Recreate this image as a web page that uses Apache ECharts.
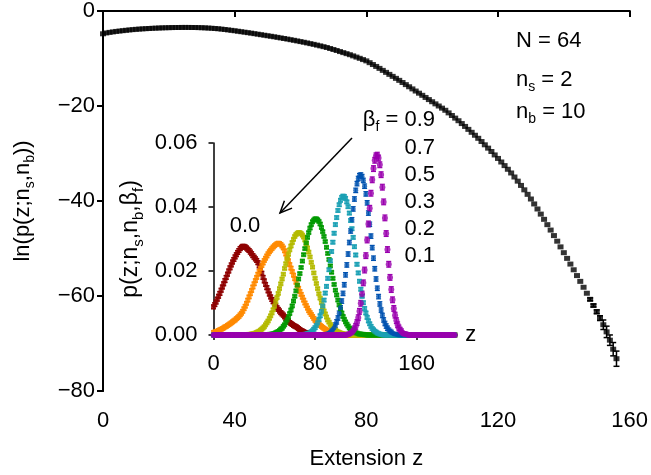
<!DOCTYPE html>
<html><head><meta charset="utf-8">
<script src="https://cdn.jsdelivr.net/npm/echarts@6/dist/echarts.min.js"></script>
<style>html,body{margin:0;padding:0;background:#fff}#c{width:651px;height:475px}</style>
</head><body><div id="c"></div>
<script>
const FONT = 'Liberation Sans, Arial, Helvetica, sans-serif';

// ---------- main chart: ln p(z; ns, nb), z = 0..156 ----------
const mainLnP = [
-4.80,-4.62,-4.50,-4.40,-4.30,-4.22,-4.14,-4.06,-3.99,-3.92,
-3.86,-3.81,-3.76,-3.72,-3.68,-3.64,-3.61,-3.58,-3.55,-3.53,
-3.51,-3.49,-3.48,-3.47,-3.46,-3.46,-3.46,-3.47,-3.48,-3.50,
-3.52,-3.55,-3.59,-3.63,-3.68,-3.74,-3.81,-3.89,-3.98,-4.07,
-4.16,-4.26,-4.36,-4.46,-4.56,-4.66,-4.77,-4.88,-4.99,-5.10,
-5.21,-5.32,-5.43,-5.55,-5.67,-5.79,-5.91,-6.04,-6.17,-6.30,
-6.44,-6.58,-6.72,-6.87,-7.02,-7.18,-7.34,-7.51,-7.68,-7.89,
-8.10,-8.32,-8.54,-8.76,-8.98,-9.20,-9.45,-9.70,-9.96,-10.23,
-10.50,-10.88,-11.27,-11.67,-12.08,-12.50,-12.92,-13.34,-13.76,-14.18,
-14.60,-15.05,-15.50,-15.95,-16.40,-16.85,-17.30,-17.75,-18.20,-18.65,
-19.10,-19.55,-20.00,-20.45,-20.90,-21.45,-22.00,-22.55,-23.10,-23.70,
-24.30,-24.92,-25.54,-26.16,-26.80,-27.48,-28.17,-28.87,-29.58,-30.30,
-31.04,-31.79,-32.55,-33.32,-34.10,-34.95,-35.82,-36.72,-37.65,-38.60,
-39.58,-40.62,-41.68,-42.76,-43.86,-44.98,-46.12,-47.28,-48.46,-49.66,
-50.88,-52.08,-53.28,-54.48,-55.70,-56.92,-58.16,-59.42,-60.70,-62.00,
-63.32,-64.66,-66.05,-67.55,-69.30,-71.20,-73.20
];
const mainZ = mainLnP.map((_, i) => i);
const mainErrZ = [148,149,150,151,152,153,154,155,156];
const mainErr  = [0.3,0.3,0.4,0.5,1.0,1.2,1.1,1.4,1.6];

// ---------- inset: p(z; ns, nb, beta_f), z = 0..190 ----------
const betaLabels = ['0.0','0.1','0.2','0.3','0.5','0.7','0.9'];
const pBeta00 = [
.0088,.0095,.0103,.0112,.0121,.0130,.0140,.0150,.0160,.0170,
.0180,.0190,.0200,.0210,.0219,.0228,.0236,.0244,.0251,.0258,
.0264,.0270,.0274,.0277,.0277,.0275,.0272,.0268,.0264,.0259,
.0254,.0248,.0243,.0238,.0233,.0226,.0216,.0205,.0193,.0180,
.0169,.0158,.0148,.0138,.0128,.0119,.0111,.0104,.0097,.0091,
.0085,.0080,.0075,.0070,.0066,.0062,.0057,.0052,.0047,.0043,
.0039,.0036,.0033,.0030,.0028,.0026,.0023,.0020,.0017,.0014,
.0012,.0010,.0008,.0007,.0006,.0005,.0004,.0003,.0002,.0002,
.0001,.0001,.0001,0,0,0,0,0,0,0,
0,0,0,0,0,0,0,0,0,0, 0,0,0,0,0,0,0,0,0,0, 0,0,0,0,0,0,0,0,0,0,
0,0,0,0,0,0,0,0,0,0, 0,0,0,0,0,0,0,0,0,0, 0,0,0,0,0,0,0,0,0,0,
0,0,0,0,0,0,0,0,0,0, 0,0,0,0,0,0,0,0,0,0, 0,0,0,0,0,0,0,0,0,0,
0,0,0,0,0,0,0,0,0,0, 0
];
const pBeta01 = [
.0008,.0009,.0011,.0012,.0014,.0016,.0018,.0020,.0022,.0025,
.0027,.0030,.0032,.0035,.0038,.0041,.0044,.0047,.0051,.0054,
.0058,.0063,.0068,.0074,.0082,.0090,.0099,.0109,.0119,.0129,
.0139,.0150,.0160,.0170,.0180,.0190,.0199,.0208,.0217,.0225,
.0233,.0240,.0247,.0254,.0260,.0265,.0270,.0275,.0279,.0282,
.0285,.0287,.0286,.0283,.0278,.0272,.0263,.0253,.0243,.0232,
.0220,.0209,.0198,.0187,.0176,.0165,.0155,.0146,.0136,.0127,
.0118,.0109,.0100,.0092,.0084,.0076,.0070,.0064,.0058,.0052,
.0046,.0042,.0038,.0034,.0030,.0027,.0024,.0021,.0018,.0016,
.0014,.0012,.0010,.0008,.0007,.0006,.0005,.0004,.0003,.0003,
.0002,.0002,.0001,.0001,.0001,.0001,0,0,0,0,
0,0,0,0,0,0,0,0,0,0, 0,0,0,0,0,0,0,0,0,0, 0,0,0,0,0,0,0,0,0,0,
0,0,0,0,0,0,0,0,0,0, 0,0,0,0,0,0,0,0,0,0, 0,0,0,0,0,0,0,0,0,0,
0,0,0,0,0,0,0,0,0,0, 0,0,0,0,0,0,0,0,0,0, 0
];
const pBeta02 = [
0,0,0,0,0,0,0,0,0,0, 0,0,0,0,0,0,0,0,0,0,
0,0,0,0,0,.0001,.0001,.0001,.0002,.0002,
.0003,.0004,.0005,.0006,.0008,.0010,.0012,.0015,.0018,.0022,
.0026,.0032,.0038,.0044,.0052,.0060,.0069,.0079,.0090,.0104,
.0117,.0130,.0145,.0160,.0175,.0190,.0208,.0223,.0238,.0252,
.0266,.0278,.0289,.0299,.0308,.0314,.0318,.0320,.0320,.0317,
.0312,.0306,.0297,.0285,.0272,.0259,.0244,.0227,.0212,.0194,
.0177,.0161,.0145,.0129,.0115,.0101,.0087,.0075,.0066,.0056,
.0047,.0040,.0033,.0027,.0023,.0018,.0015,.0012,.0010,.0008,
.0006,.0005,.0004,.0003,.0002,.0002,.0001,.0001,0,0,
0,0,0,0,0,0,0,0,0,0, 0,0,0,0,0,0,0,0,0,0, 0,0,0,0,0,0,0,0,0,0,
0,0,0,0,0,0,0,0,0,0, 0,0,0,0,0,0,0,0,0,0, 0,0,0,0,0,0,0,0,0,0,
0,0,0,0,0,0,0,0,0,0, 0,0,0,0,0,0,0,0,0,0, 0
];
const pBeta03 = [
0,0,0,0,0,0,0,0,0,0, 0,0,0,0,0,0,0,0,0,0,
0,0,0,0,0,0,0,0,0,0, 0,0,0,0,0,0,0,0,0,0,
.0001,.0001,.0001,.0001,.0002,.0002,.0003,.0004,.0005,.0007,
.0009,.0011,.0014,.0018,.0021,.0027,.0032,.0039,.0047,.0056,
.0067,.0078,.0091,.0106,.0121,.0138,.0156,.0175,.0192,.0211,
.0231,.0251,.0270,.0288,.0305,.0320,.0334,.0345,.0354,.0359,
.0363,.0363,.0360,.0355,.0347,.0336,.0323,.0308,.0292,.0274,
.0255,.0236,.0216,.0196,.0177,.0158,.0140,.0125,.0109,.0094,
.0081,.0069,.0058,.0049,.0041,.0034,.0028,.0022,.0018,.0014,
.0011,.0009,.0007,.0006,.0004,.0003,.0003,.0002,.0002,.0001,
.0001,0,0,0,0,0,0,0,0,0,
0,0,0,0,0,0,0,0,0,0, 0,0,0,0,0,0,0,0,0,0, 0,0,0,0,0,0,0,0,0,0,
0,0,0,0,0,0,0,0,0,0, 0,0,0,0,0,0,0,0,0,0, 0,0,0,0,0,0,0,0,0,0, 0
];
const pBeta05 = [
0,0,0,0,0,0,0,0,0,0, 0,0,0,0,0,0,0,0,0,0, 0,0,0,0,0,0,0,0,0,0,
0,0,0,0,0,0,0,0,0,0, 0,0,0,0,0,0,0,0,0,0, 0,0,0,0,0,0,0,0,0,0,
0,0,0,0,0,0,0,0,0,0,
.0001,.0001,.0002,.0003,.0004,.0005,.0007,.0010,.0013,.0018,
.0023,.0030,.0038,.0048,.0060,.0074,.0091,.0109,.0131,.0152,
.0177,.0204,.0232,.0261,.0290,.0318,.0345,.0367,.0389,.0407,
.0421,.0430,.0434,.0433,.0427,.0416,.0401,.0381,.0358,.0332,
.0305,.0276,.0250,.0221,.0194,.0168,.0143,.0121,.0101,.0083,
.0069,.0055,.0044,.0035,.0027,.0020,.0016,.0012,.0009,.0006,
.0005,.0003,.0002,.0001,0,0,0,0,0,0,
0,0,0,0,0,0,0,0,0,0, 0,0,0,0,0,0,0,0,0,0, 0,0,0,0,0,0,0,0,0,0,
0,0,0,0,0,0,0,0,0,0, 0,0,0,0,0,0,0,0,0,0, 0
];
const pBeta07 = [
0,0,0,0,0,0,0,0,0,0, 0,0,0,0,0,0,0,0,0,0, 0,0,0,0,0,0,0,0,0,0,
0,0,0,0,0,0,0,0,0,0, 0,0,0,0,0,0,0,0,0,0, 0,0,0,0,0,0,0,0,0,0,
0,0,0,0,0,0,0,0,0,0, 0,0,0,0,0,0,0,0,0,0,
0,0,0,0,0,0,0,.0001,.0002,.0003,
.0004,.0006,.0009,.0013,.0017,.0023,.0031,.0041,.0053,.0068,
.0085,.0106,.0130,.0157,.0188,.0219,.0253,.0289,.0325,.0360,
.0394,.0425,.0452,.0473,.0489,.0498,.0500,.0495,.0483,.0465,
.0441,.0413,.0381,.0346,.0309,.0273,.0240,.0207,.0175,.0146,
.0120,.0097,.0078,.0061,.0047,.0036,.0028,.0021,.0015,.0011,
.0008,.0006,.0004,.0003,.0002,.0001,0,0,0,0,
0,0,0,0,0,0,0,0,0,0, 0,0,0,0,0,0,0,0,0,0, 0,0,0,0,0,0,0,0,0,0,
0,0,0,0,0,0,0,0,0,0, 0
];
const pBeta09 = [
0,0,0,0,0,0,0,0,0,0, 0,0,0,0,0,0,0,0,0,0, 0,0,0,0,0,0,0,0,0,0,
0,0,0,0,0,0,0,0,0,0, 0,0,0,0,0,0,0,0,0,0, 0,0,0,0,0,0,0,0,0,0,
0,0,0,0,0,0,0,0,0,0, 0,0,0,0,0,0,0,0,0,0, 0,0,0,0,0,0,0,0,0,0,
0,0,0,0,0,0,0,0,0,0,
0,0,0,0,0,.0001,.0002,.0003,.0006,.0008,
.0013,.0019,.0027,.0039,.0054,.0074,.0099,.0128,.0163,.0203,
.0248,.0297,.0347,.0396,.0443,.0485,.0520,.0546,.0560,.0562,
.0553,.0532,.0501,.0462,.0416,.0366,.0317,.0267,.0221,.0180,
.0142,.0110,.0083,.0062,.0045,.0032,.0022,.0015,.0010,.0006,
.0004,.0003,.0002,.0001,0,0,0,0,0,0,
0,0,0,0,0,0,0,0,0,0, 0,0,0,0,0,0,0,0,0,0, 0,0,0,0,0,0,0,0,0,0, 0
];
const insetSeries = [pBeta00, pBeta01, pBeta02, pBeta03, pBeta05, pBeta07, pBeta09];
const insetErr = [0.0006, 0.0005, 0.0004, 0.0004, 0.0005, 0.0007, 0.0009];
const insetZ = pBeta00.map((_, i) => i);

// ---------- styling ----------
const insetColors = ['#8E0000', '#FF8A00', '#B4BA00', '#009A00', '#1AA0B4', '#0052B0', '#9A00AE'];
const insetSymbols = ['rect', 'rect', 'rect', 'rect', 'rect', 'circle', 'circle'];
const insetSizes = [5, 5, 5, 5, 5, 5, 6];

function errRenderer(color, capHalf, lw) {
  return function (params, api) {
    const x = api.value(0), y = api.value(1), e = api.value(2);
    if (!(e > 0)) return null;
    const t = api.coord([x, y + e]), b = api.coord([x, y - e]);
    const st = { stroke: color, lineWidth: lw };
    return { type: 'group', children: [
      { type: 'line', shape: { x1: t[0], y1: t[1], x2: b[0], y2: b[1] }, style: st },
      { type: 'line', shape: { x1: t[0] - capHalf, y1: t[1], x2: t[0] + capHalf, y2: t[1] }, style: st },
      { type: 'line', shape: { x1: b[0] - capHalf, y1: b[1], x2: b[0] + capHalf, y2: b[1] }, style: st }
    ]};
  };
}

const series = [];
series.push({
  type: 'scatter', xAxisIndex: 0, yAxisIndex: 0, symbol: 'rect', symbolSize: [6, 5],
  itemStyle: { color: '#000' }, data: mainZ.map((z, i) => [z, mainLnP[i]]), silent: true
});
series.push({
  type: 'custom', xAxisIndex: 0, yAxisIndex: 0, renderItem: errRenderer('#000', 3, 1.5),
  data: mainErrZ.map((z, i) => [z, mainLnP[z], mainErr[i]]), silent: true
});
insetSeries.forEach((vals, k) => {
  series.push({
    type: 'custom', xAxisIndex: 2, yAxisIndex: 2, renderItem: errRenderer(insetColors[k], 2.5, 1.2),
    data: insetZ.filter((z) => vals[z] > 0.0006).map((z) => [z, vals[z], insetErr[k]]), silent: true
  });
  series.push({
    type: 'scatter', xAxisIndex: 2, yAxisIndex: 2, symbol: insetSymbols[k], symbolSize: insetSizes[k],
    itemStyle: { color: insetColors[k] }, data: insetZ.map((z) => [z, vals[z]]), silent: true
  });
});

const axisBlack = { lineStyle: { color: '#000', width: 2 } };
const lbl = { color: '#000', fontSize: 22, fontFamily: FONT };
const subRich = {
  a: { fontSize: 22, fontFamily: FONT, color: '#000' },
  s: { fontSize: 14, fontFamily: FONT, color: '#000', padding: [14, 0, 0, 0] }
};
const subRichInset = {
  a: { fontSize: 23, fontFamily: FONT, color: '#000' },
  s: { fontSize: 15, fontFamily: FONT, color: '#000', padding: [15, 0, 0, 0] }
};
const minusFmt = (v) => (v < 0 ? '\u2212' + Math.abs(v) : String(v));

const option = {
  animation: false,
  backgroundColor: '#fff',
  textStyle: { fontFamily: FONT },
  grid: [
    { left: 103, right: 20, top: 8, bottom: 83 },
    { left: 213.5, top: 143, width: 243.8, height: 192 }
  ],
  xAxis: [
    { gridIndex: 0, type: 'value', min: 0, max: 160, interval: 40, position: 'bottom',
      axisLine: axisBlack, axisTick: { inside: false, length: 6, lineStyle: { color: '#000', width: 2 } },
      axisLabel: Object.assign({ margin: 19 }, lbl), splitLine: { show: false },
      name: '{a|Extension z}', nameLocation: 'middle', nameGap: 57,
      nameTextStyle: { rich: subRich } },
    { gridIndex: 0, type: 'value', min: 0, max: 160, interval: 40, position: 'top',
      axisLine: axisBlack, axisTick: { inside: true, length: 5, lineStyle: { color: '#000', width: 2 } },
      axisLabel: { show: false }, splitLine: { show: false } },
    { gridIndex: 1, type: 'value', min: 0, max: 192, position: 'bottom',
      axisLine: { onZero: false, lineStyle: { color: '#000', width: 1.5 } },
      axisTick: { inside: false, length: 5, customValues: [0, 80, 160], lineStyle: { color: '#000', width: 1.5 } },
      axisLabel: Object.assign({ margin: 18, customValues: [0, 80, 160] }, lbl), splitLine: { show: false },
      name: 'z', nameLocation: 'end', nameGap: 8, nameTextStyle: { fontSize: 22, color: '#000', fontFamily: FONT, verticalAlign: 'middle', padding: [8, 0, 0, 0] } }
  ],
  yAxis: [
    { gridIndex: 0, type: 'value', min: -80, max: 0, interval: 20, position: 'left',
      axisLine: axisBlack, axisTick: { inside: false, length: 6, lineStyle: { color: '#000', width: 2 } },
      axisLabel: Object.assign({ margin: 8, formatter: minusFmt }, lbl), splitLine: { show: false },
      name: '{a|ln(p(z;n}{s|s}{a|,n}{s|b}{a|))}', nameLocation: 'middle', nameGap: 66, nameRotate: 90,
      nameTextStyle: { rich: subRich } },
    { gridIndex: 0, type: 'value', min: -80, max: 0, interval: 20, position: 'right',
      axisLine: axisBlack, axisTick: { inside: true, length: 6, lineStyle: { color: '#000', width: 2 } },
      axisLabel: { show: false }, splitLine: { show: false } },
    { gridIndex: 1, type: 'value', min: 0, max: 0.06, interval: 0.02, position: 'left',
      axisLine: { onZero: false, lineStyle: { color: '#000', width: 1.5 } },
      axisTick: { inside: false, length: 5, lineStyle: { color: '#000', width: 1.5 } },
      axisLabel: Object.assign({ margin: 16, formatter: (v) => v.toFixed(2) }, lbl),
      splitLine: { show: false } }
  ],
  series: series
};

const chart = echarts.init(document.getElementById('c'), null, { renderer: 'canvas' });
chart.setOption(option);

// ---------- annotations ----------
const txt = (text, x, y, align, rich, extra) => Object.assign({
  type: 'text', x: x, y: y, silent: true,
  style: { text: text, fontSize: 22, fontFamily: FONT, fill: '#000', align: align, verticalAlign: 'middle',
           textAlign: align, textVerticalAlign: 'middle', rich: rich || subRich }
}, extra || {});

// arrow from the beta label to the curves
const arrowFrom = [352, 138], arrowTo = [280, 213];
const dx = arrowTo[0] - arrowFrom[0], dy = arrowTo[1] - arrowFrom[1];
const L = Math.hypot(dx, dy), ux = -dx / L, uy = -dy / L;
const hl = 13, ang = 24 * Math.PI / 180;
const h1 = [arrowTo[0] + hl * (ux * Math.cos(ang) - uy * Math.sin(ang)), arrowTo[1] + hl * (ux * Math.sin(ang) + uy * Math.cos(ang))];
const h2 = [arrowTo[0] + hl * (ux * Math.cos(-ang) - uy * Math.sin(-ang)), arrowTo[1] + hl * (ux * Math.sin(-ang) + uy * Math.cos(-ang))];

const labelRight = 435;
const graphics = [
  txt('{a|N = 64}', 516, 41, 'left'),
  txt('{a|n}{s|s}{a| = 2}', 516, 80, 'left'),
  txt('{a|n}{s|b}{a| = 10}', 516, 112, 'left'),
  txt('{a|β}{s|f}{a| = 0.9}', labelRight, 120, 'right'),
  txt('{a|' + betaLabels[5] + '}', labelRight, 148, 'right'),
  txt('{a|' + betaLabels[4] + '}', labelRight, 175, 'right'),
  txt('{a|' + betaLabels[3] + '}', labelRight, 202, 'right'),
  txt('{a|' + betaLabels[2] + '}', labelRight, 229, 'right'),
  txt('{a|' + betaLabels[1] + '}', labelRight, 256, 'right'),
  txt('{a|' + betaLabels[0] + '}', 245, 226, 'center'),
  txt('{a|p(z;n}{s|s}{a|,n}{s|b}{a|,β}{s|f}{a|)}', 131, 239, 'center', subRichInset, { rotation: Math.PI / 2 }),
  { type: 'line', silent: true, shape: { x1: arrowFrom[0], y1: arrowFrom[1], x2: arrowTo[0], y2: arrowTo[1] },
    style: { stroke: '#000', lineWidth: 1.5 } },
  { type: 'polyline', silent: true, shape: { points: [h1, arrowTo, h2] },
    style: { stroke: '#000', lineWidth: 1.5, fill: null } }
];
chart.setOption({ graphic: { elements: graphics } });
</script>
</body></html>
